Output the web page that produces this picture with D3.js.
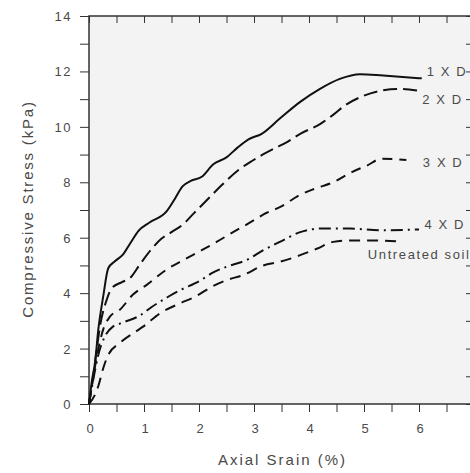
<!DOCTYPE html>
<html>
<head>
<meta charset="utf-8">
<script src="https://cdn.jsdelivr.net/npm/d3@7"></script>
<style>
  body { margin: 0; background: #fff; }
  text { font-family: "Liberation Sans", Arial, sans-serif; fill: #4a4a4a; }
</style>
</head>
<body>
<div id="chart"></div>
<script>
// curves: [axial strain %, stress kPa]
var oneD = [[0,0],[0.05,0.8],[0.11,1.5],[0.17,2.7],[0.26,3.9],[0.35,4.9],[0.47,5.15],[0.62,5.4],[0.75,5.8],[0.9,6.25],[1.1,6.55],[1.41,6.95],[1.56,7.4],[1.7,7.85],[1.85,8.05],[2.05,8.2],[2.26,8.65],[2.5,8.9],[2.7,9.25],[2.9,9.55],[3.14,9.75],[3.47,10.3],[3.84,10.9],[4.2,11.37],[4.56,11.73],[4.93,11.9],[5.35,11.85],[6.05,11.75]];
var twoD = [[0,0],[0.07,0.9],[0.13,1.8],[0.2,2.8],[0.32,3.75],[0.41,4.17],[0.6,4.4],[0.75,4.55],[0.93,5.05],[1.14,5.6],[1.32,5.97],[1.5,6.2],[1.72,6.5],[1.9,6.87],[2.14,7.35],[2.41,7.89],[2.75,8.49],[2.93,8.73],[3.35,9.2],[3.6,9.45],[3.84,9.75],[4.2,10.1],[4.45,10.45],[4.65,10.77],[4.93,11.07],[5.29,11.3],[5.6,11.37],[6.0,11.3]];
var threeD = [[0,0],[0.08,1.0],[0.16,1.9],[0.26,2.7],[0.38,3.15],[0.56,3.4],[0.8,3.95],[1.05,4.3],[1.41,4.85],[1.72,5.2],[2.05,5.55],[2.32,5.85],[2.62,6.2],[2.93,6.55],[3.23,6.9],[3.47,7.1],[3.84,7.55],[4.11,7.77],[4.44,8.0],[4.78,8.37],[5.05,8.6],[5.32,8.85],[5.77,8.8]];
var fourD = [[0,0],[0.08,0.9],[0.16,1.7],[0.28,2.4],[0.44,2.8],[0.56,2.9],[0.93,3.2],[1.14,3.5],[1.44,3.87],[1.65,4.1],[2.02,4.45],[2.26,4.75],[2.5,4.95],[2.87,5.2],[3.17,5.55],[3.47,5.85],[3.84,6.2],[4.2,6.33],[4.75,6.33],[5.29,6.27],[6.0,6.3]];
var untreated = [[0,0],[0.1,0.3],[0.17,0.65],[0.26,1.3],[0.35,1.77],[0.56,2.2],[0.84,2.6],[0.99,2.8],[1.29,3.27],[1.65,3.63],[1.93,3.87],[2.23,4.23],[2.5,4.47],[2.8,4.65],[3.17,5.0],[3.47,5.13],[3.84,5.37],[4.14,5.6],[4.44,5.85],[4.75,5.9],[5.23,5.9],[5.71,5.85]];

var seriesNames = ["1 X D", "2 X D", "3 X D", "4 X D", "Untreated soil"];
var xTicks = [0, 1, 2, 3, 4, 5, 6];
var yTicks = [0, 2, 4, 6, 8, 10, 12, 14];

var margin = { top: 16, right: -4, bottom: 69, left: 89 },
    width = 470 - margin.left - margin.right,
    height = 473 - margin.top - margin.bottom;

var x = d3.scaleLinear().domain([0, 7]).range([0, width]);
var y = d3.scaleLinear().domain([0, 14]).range([height, 0]);

var svg = d3.select("#chart").append("svg")
    .attr("width", 470)
    .attr("height", 473)
    .append("g")
    .attr("transform", "translate(" + margin.left + "," + margin.top + ")");

svg.append("rect")
    .attr("width", width).attr("height", height)
    .attr("fill", "#f3f3f3");

var minorX = d3.range(0, 7.01, 0.5), minorY = d3.range(0, 14.01, 1);

// bottom axis (ticks outward) + labels
svg.append("g")
    .attr("transform", "translate(0," + height + ")")
    .call(d3.axisBottom(x).tickValues(minorX).tickSize(8).tickFormat(""))
    .call(g => g.select(".domain").remove())
    .selectAll("line").attr("stroke", "#333");
svg.append("g").selectAll("text").data(xTicks).enter().append("text")
    .attr("x", d => x(d) + 1).attr("y", height + 29)
    .attr("text-anchor", "middle").attr("font-size", 13)
    .text(d => d);

// top axis (ticks inward)
svg.append("g")
    .call(d3.axisTop(x).tickValues(minorX).tickSize(-7).tickFormat(""))
    .call(g => g.select(".domain").remove())
    .selectAll("line").attr("stroke", "#333");

// left axis (ticks outward) + labels
svg.append("g")
    .call(d3.axisLeft(y).tickValues(minorY).tickSize(9).tickFormat(""))
    .call(g => g.select(".domain").remove())
    .selectAll("line").attr("stroke", "#333");
svg.append("g").selectAll("text").data(yTicks).enter().append("text")
    .attr("x", -17).attr("y", d => y(d) + 5)
    .attr("text-anchor", "end").attr("font-size", 13)
    .attr("letter-spacing", 1.5)
    .text(d => d);

// right axis (ticks inward)
svg.append("g")
    .attr("transform", "translate(" + width + ",0)")
    .call(d3.axisRight(y).tickValues(minorY).tickSize(-8).tickFormat(""))
    .call(g => g.select(".domain").remove())
    .selectAll("line").attr("stroke", "#333");

// frame
svg.append("rect")
    .attr("width", width).attr("height", height)
    .attr("fill", "none").attr("stroke", "#333").attr("stroke-width", 1.5);

var line = d3.line().x(d => x(d[0])).y(d => y(d[1])).curve(d3.curveMonotoneX);

var curves = [
  { data: oneD, dash: null },
  { data: twoD, dash: "14,6" },
  { data: threeD, dash: "10,7" },
  { data: fourD, dash: "12,5,2,5" },
  { data: untreated, dash: "11,7" }
];

svg.selectAll(".curve").data(curves).enter().append("path")
    .attr("class", "curve")
    .attr("d", d => line(d.data))
    .attr("fill", "none")
    .attr("stroke", "#111")
    .attr("stroke-width", 2)
    .attr("stroke-dasharray", d => d.dash);

// curve labels
var labelPos = [[6.14, 11.82], [6.06, 10.82], [6.07, 8.56], [6.1, 6.3], [5.07, 5.25]];
svg.selectAll(".lab").data(seriesNames).enter().append("text")
    .attr("x", (d, i) => x(labelPos[i][0]))
    .attr("y", (d, i) => y(labelPos[i][1]))
    .attr("font-size", 13)
    .attr("letter-spacing", 1.6)
    .attr("fill", "#555")
    .text(d => d);

// axis titles
svg.append("text")
    .attr("x", width / 2 + 1).attr("y", height + 61)
    .attr("text-anchor", "middle").attr("font-size", 15)
    .attr("letter-spacing", 2)
    .text("Axial Srain (%)");
svg.append("text")
    .attr("transform", "translate(-56," + (height / 2 - 1) + ") rotate(-90)")
    .attr("text-anchor", "middle").attr("font-size", 15)
    .attr("letter-spacing", 1.8)
    .text("Compressive Stress (kPa)");
</script>
</body>
</html>
